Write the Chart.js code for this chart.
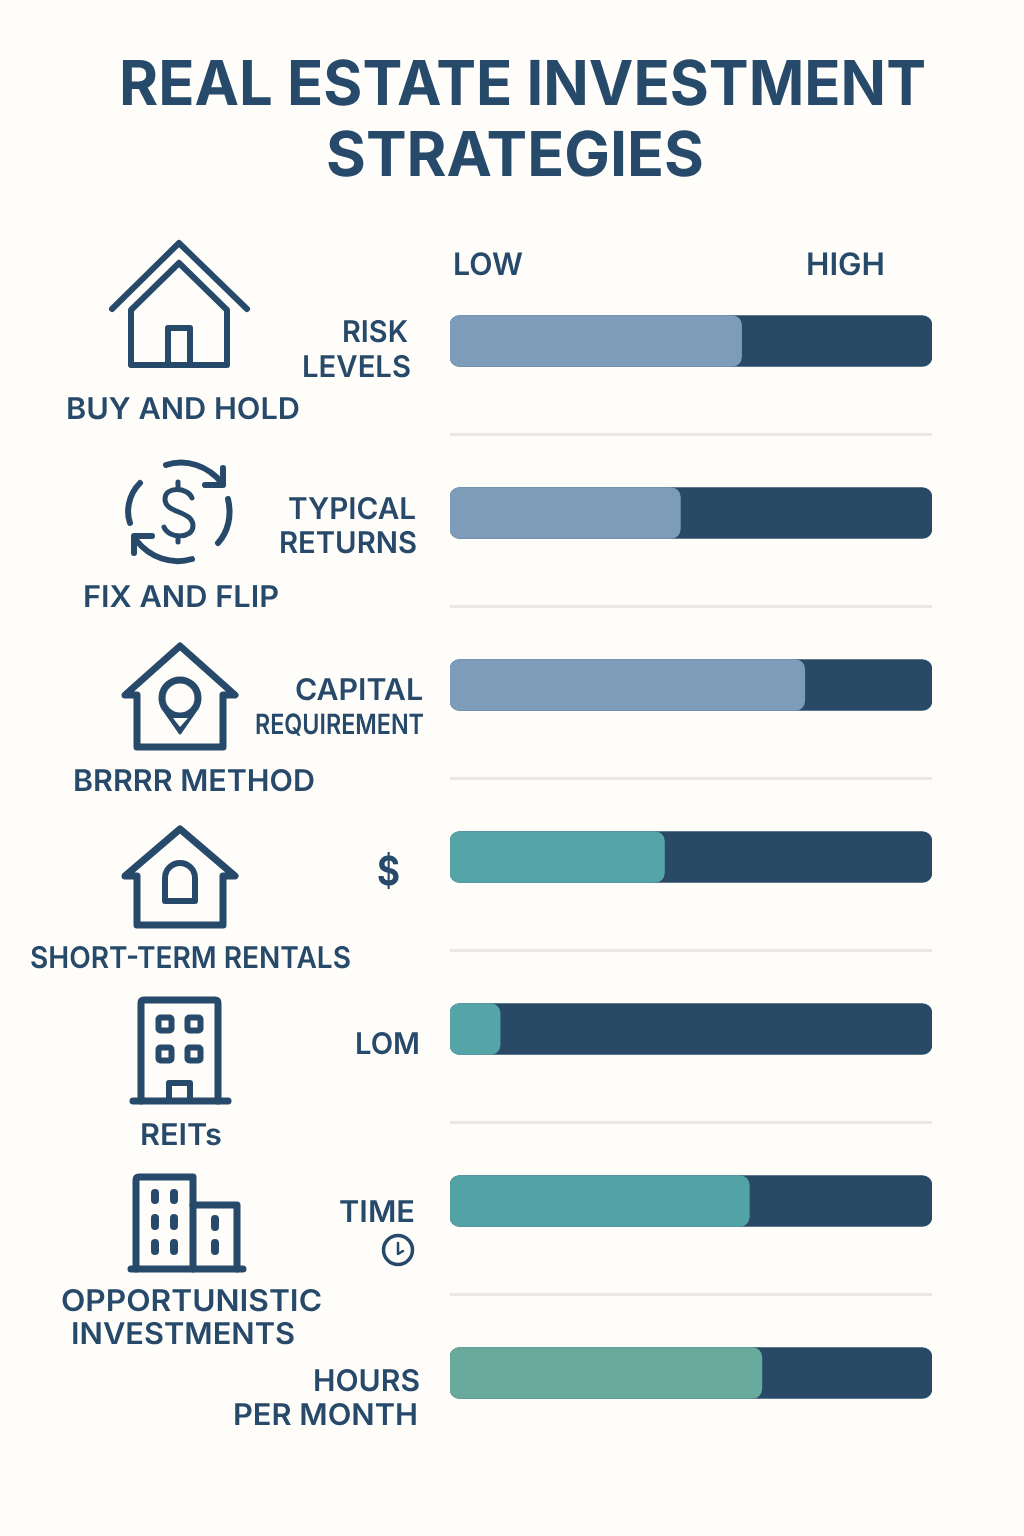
<!DOCTYPE html>
<html>
<head>
<meta charset="utf-8">
<title>Real Estate Investment Strategies</title>
<script src="https://cdn.jsdelivr.net/npm/chart.js@4"></script>
<style>
  html, body { margin: 0; padding: 0; background: #fefdfa; }
  #page { position: relative; width: 1024px; height: 1536px; overflow: hidden; background: #fefdfa; }
  #page canvas, #page svg { position: absolute; left: 0; top: 0; }
  #overlay text { font-family: Inter, "Noto Sans", sans-serif; fill: #27496a; text-rendering: geometricPrecision; }
  #icons * { fill: none; stroke: #27496a; stroke-width: 6; stroke-linejoin: round; stroke-linecap: round; }
</style>
</head>
<body>
<div id="page">
  <canvas id="chart" width="1024" height="1536"></canvas>
  <svg id="overlay" width="1024" height="1536" viewBox="0 0 1024 1536">
    <g id="labels"></g>
    <g id="icons">
      <!-- buy and hold -->
      <path d="M112 309 L179 243 L247 309"/>
      <path d="M131 310 L179 263 L227 310 V365 H131 Z"/>
      <path d="M168 365 V328 H190 V365"/>
      <!-- fix and flip -->
      <path d="M166 465 C186 458 208 466 222 483"/>
      <path d="M223 468 V485 H205"/>
      <path d="M192 559 C172 565 150 558 136 540"/>
      <path d="M152 536 H134 V553"/>
      <path d="M140 483 C128 495 126 512 130 523"/>
      <path d="M228 499 C232 516 228 532 218 543"/>
      <path d="M192 498 C188 487 165 486 165 499 C165 514 193 510 193 526 C193 539 168 539 164 527" style="stroke-width:5"/>
      <path d="M178 482 V488 M178 536 V542" style="stroke-width:5"/>
      <!-- brrrr -->
      <path d="M125 695 L180 646 L235 695 H223 V747 H137 V695 Z" style="stroke-width:7"/>
      <path d="M180 733 L164 710 A20 20 0 1 1 196 710 Z" style="fill:#27496a;stroke-width:3"/>
      <circle cx="180" cy="698" r="14.5" style="fill:#fefdfa;stroke:none"/>
      <path d="M173 718 H188 L180 727 Z" style="fill:#fefdfa;stroke:none"/>
      <!-- short-term rentals -->
      <path d="M125 876 L180 829 L235 876 H223 V925 H137 V876 Z" style="stroke-width:7"/>
      <path d="M165 901 V878 A15 15 0 0 1 195 878 V901 Z"/>
      <!-- reits -->
      <path d="M141 1101 V1003 Q141 1000 144 1000 H215 Q218 1000 218 1003 V1101" style="stroke-width:7"/>
      <path d="M133 1101 H228" style="stroke-width:7"/>
      <rect x="158.5" y="1017.5" width="13" height="13" rx="2"/>
      <rect x="187.5" y="1017.5" width="13" height="13" rx="2"/>
      <rect x="158.5" y="1047.5" width="13" height="13" rx="2"/>
      <rect x="187.5" y="1047.5" width="13" height="13" rx="2"/>
      <path d="M169 1101 V1083 H190 V1101"/>
      <!-- opportunistic -->
      <path d="M136 1269 V1180 Q136 1177 139 1177 H193 V1269" style="stroke-width:7"/>
      <path d="M193 1205 H237 V1269" style="stroke-width:7"/>
      <path d="M131 1269 H243" style="stroke-width:7"/>
      <path d="M155 1193 V1200 M174 1193 V1200 M155 1218 V1226 M174 1218 V1226 M155 1243 V1251 M174 1243 V1251 M215 1219 V1227 M215 1243 V1251" style="stroke-width:8"/>
      <!-- time clock -->
      <circle cx="398" cy="1250" r="14.5" style="stroke-width:3.5"/>
      <path d="M398 1243 V1254 L403 1251" style="stroke-width:2.5"/>
    </g>
  </svg>
</div>

<script>
// Data (share of the LOW..HIGH track)
const categories = ['RISK LEVELS', 'TYPICAL RETURNS', 'CAPITAL REQUIREMENT', '$', 'LOM', 'TIME', 'HOURS PER MONTH'];
const trackValues = [100, 100, 100, 100, 100, 100, 100];
const fillValues = [60.5, 47.8, 73.6, 44.5, 10.4, 62.1, 64.7];

const fillColors = ['#7c9cba', '#7c9cba', '#7c9cba', '#55a4a8', '#55a4a8', '#52a3a6', '#68ab9c'];

// text, left, right, baseline, size, weight
const textItems = [
    ['REAL ESTATE INVESTMENT', 119, 926, 105, 62, 700],
    ['STRATEGIES', 326, 704, 176, 62, 700],
    ['LOW', 453, 523, 275, 31, 600],
    ['HIGH', 806, 885, 275, 31, 600],
    ['RISK', 342, 408, 342, 30, 600],
    ['LEVELS', 302, 411, 377, 30, 600],
    ['BUY AND HOLD', 66, 300, 419, 30, 600],
    ['TYPICAL', 288, 416, 519, 30, 600],
    ['RETURNS', 279, 417, 553, 30, 600],
    ['FIX AND FLIP', 83, 279, 607, 30, 600],
    ['CAPITAL', 295, 423, 700, 30, 600],
    ['REQUIREMENT', 255, 424, 734, 28, 600],
    ['BRRRR METHOD', 73, 315, 791, 30, 600],
    ['$', 377, 400, 885, 40, 700],
    ['SHORT-TERM RENTALS', 30, 351, 968, 30, 600],
    ['LOM', 355, 420, 1054, 30, 600],
    ['REITs', 140, 222, 1145, 30, 600],
    ['TIME', 339, 415, 1222, 30, 600],
    ['OPPORTUNISTIC', 61, 322, 1311, 30, 600],
    ['INVESTMENTS', 71, 295, 1344, 30, 600],
    ['HOURS', 313, 420, 1391, 30, 600],
    ['PER MONTH', 233, 418, 1425, 30, 600],
];

const labels = document.getElementById('labels');
textItems.forEach(([str, left, right, baseline, size, weight]) => {
    const t = document.createElementNS('http://www.w3.org/2000/svg', 'text');
    t.textContent = str;
    t.setAttribute('x', left);
    t.setAttribute('y', baseline);
    t.setAttribute('font-size', size);
    t.setAttribute('font-weight', weight);
    t.setAttribute('textLength', right - left);
    t.setAttribute('lengthAdjust', 'spacingAndGlyphs');
    labels.appendChild(t);
});

// thin rules below each row
const separators = {
    id: 'separators',
    beforeDatasetsDraw(chart) {
        const { ctx, chartArea, scales } = chart;
        ctx.save();
        ctx.fillStyle = '#e9e8e4';
        categories.slice(0, -1).forEach((c, i) => {
            ctx.fillRect(chartArea.left, scales.y.getPixelForValue(i) + 92, chartArea.width, 3);
        });
        ctx.restore();
    },
};

new Chart(document.getElementById('chart').getContext('2d'), {
    type: 'bar',
    data: {
        labels: categories,
        datasets: [
            {
                label: 'Level',
                data: fillValues,
                backgroundColor: fillColors,
                borderRadius: 10,
                borderSkipped: false,
                order: 1,
            },
            {
                label: 'Track',
                data: trackValues,
                backgroundColor: '#284a67',
                borderRadius: 10,
                borderSkipped: false,
                order: 2,
            },
        ],
    },
    options: {
        indexAxis: 'y',
        responsive: false,
        animation: false,
        layout: { padding: { left: 450, right: 92, top: 255, bottom: 77 } },
        datasets: { bar: { grouped: false, barThickness: 51 } },
        plugins: { legend: { display: false }, tooltip: { enabled: false } },
        scales: {
            x: { display: false, min: 0, max: 100 },
            y: { display: false },
        },
    },
    plugins: [separators],
});
</script>
</body>
</html>
